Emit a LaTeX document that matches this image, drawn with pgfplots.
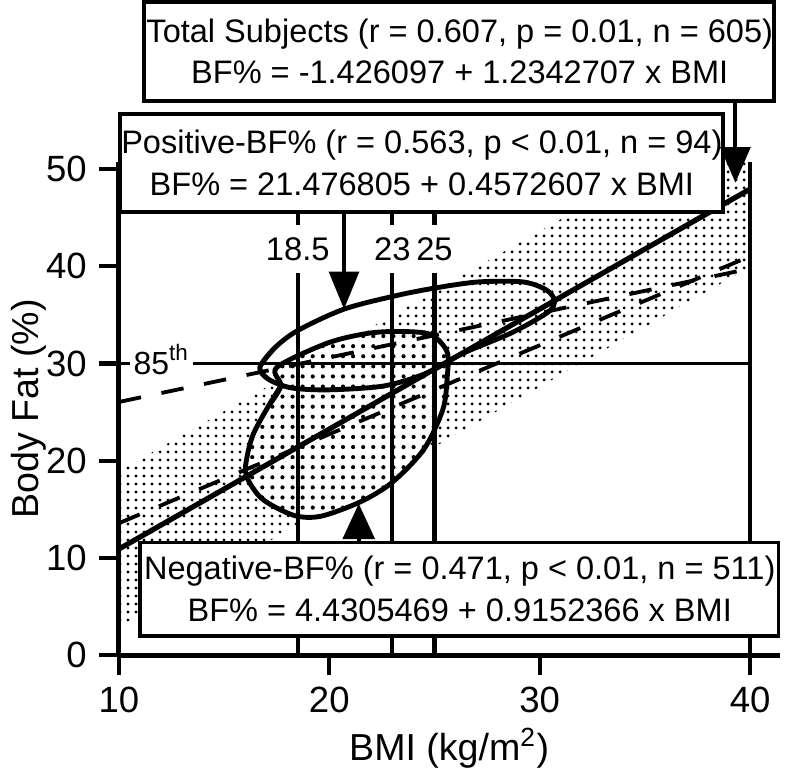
\documentclass[border=0pt]{standalone}
\usepackage{fontspec}
\setmainfont{Liberation Sans}
\usepackage{pgfplots}
\pgfplotsset{compat=1.18}
\usetikzlibrary{arrows.meta,patterns}

% fine dots for the +/-8 band, larger dots inside the negative-BF% ellipse
\pgfdeclarepatternformonly{finedots}{\pgfqpoint{-0.6pt}{-0.6pt}}{\pgfqpoint{0.6pt}{0.6pt}}{\pgfqpoint{2.3pt}{2.3pt}}{%
  \pgfpathcircle{\pgfqpoint{0pt}{0pt}}{0.46pt}\pgfusepath{fill}}
\pgfdeclarepatternformonly{bigdots}{\pgfqpoint{-0.8pt}{-0.8pt}}{\pgfqpoint{0.8pt}{0.8pt}}{\pgfqpoint{2.9pt}{2.9pt}}{%
  \pgfpathcircle{\pgfqpoint{0pt}{0pt}}{0.6pt}\pgfusepath{fill}}

\newcommand{\boxfont}{\fontsize{9.35}{12}\selectfont}

\begin{document}
\begin{tikzpicture}
\begin{axis}[
    scale only axis,
    width=6.675cm, height=4.98cm,
    xmin=10, xmax=41.4, ymin=0, ymax=50.7,
    axis x line=bottom, axis y line=left,
    axis line style={line width=1.4pt, -},
    xtick={10,20,30,40}, ytick={0,10,20,30,40,50},
    tick align=outside,
    major tick length=0.2cm,
    tick style={line width=1.2pt, black},
    ticklabel style={font=\fontsize{10.5}{12}\selectfont},
    /pgf/number format/assume math mode=true,
    xlabel={BMI (kg/m\textsuperscript{2})},
    ylabel={Body Fat (\%)},
    ylabel shift=-7pt,
    xlabel shift=-2.5pt,
    label style={font=\fontsize{10.8}{13}\selectfont},
    clip mode=individual,
]
% band around the total regression
\addplot[draw=none, pattern=finedots] coordinates {(10,2.92) (40,39.95) (40,55.95) (10,18.92)} --cycle;

% negative-BF% ellipse interior
\addplot[draw=none, fill=white] coordinates {
 (17.7,27.7) (17.5,29.6) (19.9,32.1) (21.8,33.1) (23.3,33.3) (24.8,33.0) (25.6,31.2) (25.6,28.5)
 (25.4,25.3) (24.5,21.2) (23.0,17.8) (21.5,15.8) (19.6,14.3) (18.3,14.4) (16.8,16.1) (16.05,18.5)
 (16.1,20.5) (16.4,22.8) (17.1,25.6) (17.7,27.7)} --cycle;
\addplot[draw=none, pattern=bigdots] coordinates {
 (17.7,27.7) (17.5,29.6) (19.9,32.1) (21.8,33.1) (23.3,33.3) (24.8,33.0) (25.6,31.2) (25.6,28.5)
 (25.4,25.3) (24.5,21.2) (23.0,17.8) (21.5,15.8) (19.6,14.3) (18.3,14.4) (16.8,16.1) (16.05,18.5)
 (16.1,20.5) (16.4,22.8) (17.1,25.6) (17.7,27.7)} --cycle;

% reference lines
\addplot[line width=1.1pt] coordinates {(10,30) (40,30)};
\addplot[line width=1.2pt] coordinates {(18.5,0) (18.5,46)};
\addplot[line width=1.2pt] coordinates {(23,0) (23,46)};
\addplot[line width=1.2pt] coordinates {(25,0) (25,46)};
\addplot[line width=1.3pt] coordinates {(40,0) (40,50.7)};

% regressions
\addplot[line width=1.1pt, dash pattern=on 6.5pt off 6pt] coordinates {(10,26.05) (40,39.77)};
\addplot[line width=1.1pt, dash pattern=on 6.5pt off 6pt] coordinates {(10,13.58) (40,41.04)};
\addplot[line width=1.5pt] coordinates {(10,10.92) (40,47.95)};

% ellipses
\addplot[line width=1.4pt, smooth] coordinates {
 (17.1,28.4) (16.7,29.6) (17.4,31.6) (18.5,33.4) (20.7,35.6) (23.2,37.0) (25.1,37.8) (27.1,38.4)
 (29.2,38.4) (30.3,37.6) (30.7,36.5) (30.4,35.3) (28.7,33.2) (26.4,31.1) (24.6,29.0) (22.6,27.7)
 (20.0,27.3) (18.2,27.5) (17.1,28.4) (16.7,29.6) (17.4,31.6)};
\addplot[line width=1.4pt, smooth] coordinates {
 (17.1,25.6) (17.7,27.7) (17.5,29.6) (19.9,32.1) (21.8,33.1) (23.3,33.3) (24.8,33.0) (25.6,31.2) (25.6,28.5)
 (25.4,25.3) (24.5,21.2) (23.0,17.8) (21.5,15.8) (19.6,14.3) (18.3,14.4) (16.8,16.1) (16.05,18.5)
 (16.1,20.5) (16.4,22.8) (17.1,25.6) (17.7,27.7)};

% labels on the lines
\node[fill=white, inner xsep=1pt, inner ysep=3.5pt, font=\fontsize{9.4}{10}\selectfont] at (axis cs:18.5,41.8) {18.5};
\node[fill=white, inner xsep=1pt, inner ysep=3.5pt, font=\fontsize{9.4}{10}\selectfont] at (axis cs:23,41.8) {23};
\node[fill=white, inner xsep=1pt, inner ysep=3.5pt, font=\fontsize{9.4}{10}\selectfont] at (axis cs:25,41.8) {25};
\node[fill=white, anchor=base west, inner sep=1pt, font=\fontsize{9.2}{10}\selectfont] at (axis cs:10.5,28.9) {85\textsuperscript{th}};

% boxes
\draw[line width=1.1pt, fill=white] (axis cs:11.2,57.0) rectangle (axis cs:41.15,67.2);
\node[align=center, font=\boxfont] at (axis cs:26.2,62.1) {Total Subjects (r = 0.607, p = 0.01, n = 605)\\BF\% = -1.426097 + 1.2342707 x BMI};
\draw[line width=1.1pt, fill=white] (axis cs:10.05,45.6) rectangle (axis cs:38.73,55.7);
\node[align=center, font=\boxfont] at (axis cs:24.4,50.65) {Positive-BF\% (r = 0.563, p < 0.01, n = 94)\\BF\% = 21.476805 + 0.4572607 x BMI};
\draw[line width=1.1pt, fill=white] (axis cs:11.0,2.0) rectangle (axis cs:41.35,11.6);
\node[align=center, font=\boxfont] at (axis cs:26.2,6.8) {Negative-BF\% (r = 0.471, p < 0.01, n = 511)\\BF\% = 4.4305469 + 0.9152366 x BMI};

% arrows
\draw[line width=1.2pt, -{Triangle[length=0.36cm, width=0.3cm]}] (axis cs:39.3,57.0) -- (axis cs:39.3,48.6);
\draw[line width=1.2pt, -{Triangle[length=0.38cm, width=0.3cm]}] (axis cs:20.7,45.6) -- (axis cs:20.7,35.6);
\draw[line width=1.2pt, -{Triangle[length=0.36cm, width=0.32cm]}] (axis cs:21.4,11.6) -- (axis cs:21.4,15.6);
\end{axis}
\end{tikzpicture}
\end{document}
